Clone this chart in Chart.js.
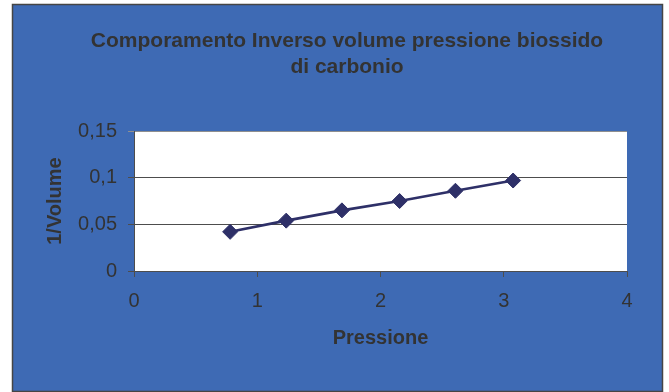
<!DOCTYPE html>
<html>
<head>
<meta charset="utf-8">
<title>Comporamento Inverso volume pressione biossido di carbonio</title>
<script src="https://cdn.jsdelivr.net/npm/chart.js@4/dist/chart.umd.min.js"></script>
<style>
  html, body { margin: 0; padding: 0; background: #ffffff; }
  #wrap { width: 669px; height: 392px; }
</style>
</head>
<body>
<div id="wrap"><canvas id="chart" width="669" height="392"></canvas></div>
<script>
// Pressione (x) and 1/Volume (y) measurements
const pressione = [0.78, 1.235, 1.687, 2.155, 2.608, 3.076];
const inversoVolume = [0.042, 0.054, 0.065, 0.075, 0.086, 0.097];

// Axis ticks and their labels (decimal comma)
const xTicks = [0, 1, 2, 3, 4];
const xTickLabels = ['0', '1', '2', '3', '4'];
const yTicks = [0, 0.05, 0.1, 0.15];
const yTickLabels = ['0', '0,05', '0,1', '0,15'];

const titleLines = ['Comporamento Inverso volume pressione biossido', 'di carbonio'];
const xTitle = 'Pressione';
const yTitle = '1/Volume';

const FONT = '"Liberation Sans", Arial, Helvetica, sans-serif';
const TEXT = '#333333';
const FRAME_BLUE = '#3e6ab4';
const LINE_NAVY = '#2e3068';
const AXIS_GREY = '#4d4d4d';

const points = pressione.map((p, i) => ({ x: p, y: inversoVolume[i] }));

// Blue framed background plus white plotting area
const framePlugin = {
  id: 'frame',
  beforeDraw(chart) {
    const { ctx, chartArea } = chart;
    ctx.save();
    ctx.fillStyle = FRAME_BLUE;
    ctx.fillRect(12, 4, 651, 388);
    ctx.strokeStyle = '#454545';
    ctx.lineWidth = 1.5;
    ctx.strokeRect(12.5, 4.5, 650, 387);
    ctx.fillStyle = '#ffffff';
    ctx.fillRect(chartArea.left, chartArea.top,
                 chartArea.right - chartArea.left, chartArea.bottom - chartArea.top);
    ctx.restore();
  }
};

// Centre the title over the whole frame rather than the padded layout box
const titleSpanPlugin = {
  id: 'titleSpan',
  afterLayout(chart) {
    if (chart.titleBlock) {
      chart.titleBlock.left = 25;
      chart.titleBlock.right = 669;
    }
  }
};

function setTicks(values) {
  return scale => { scale.ticks = values.map(v => ({ value: v })); };
}

new Chart(document.getElementById('chart'), {
  type: 'scatter',
  data: {
    datasets: [{
      label: yTitle,
      data: points,
      showLine: true,
      borderColor: LINE_NAVY,
      backgroundColor: LINE_NAVY,
      borderWidth: 2.6,
      pointStyle: 'rectRot',
      pointRadius: 7.5,
      pointHoverRadius: 7.5,
      pointBorderWidth: 1,
      pointBorderColor: LINE_NAVY,
      pointBackgroundColor: LINE_NAVY,
      tension: 0
    }]
  },
  options: {
    responsive: false,
    animation: false,
    events: [],
    layout: { padding: { left: 0, right: 42, top: 0, bottom: 0 } },
    plugins: {
      legend: { display: false },
      tooltip: { enabled: false },
      title: {
        display: true,
        text: titleLines,
        color: TEXT,
        font: { family: FONT, size: 21, weight: 'bold', lineHeight: 1.24 },
        padding: { top: 28, bottom: 51 }
      }
    },
    scales: {
      x: {
        type: 'linear',
        min: 0,
        max: 4,
        afterBuildTicks: setTicks(xTicks),
        afterFit: scale => { scale.height = 121; },
        ticks: {
          color: TEXT,
          font: { family: FONT, size: 20 },
          padding: 12,
          maxRotation: 0,
          callback: (v) => xTickLabels[xTicks.indexOf(v)] ?? ''
        },
        grid: {
          drawOnChartArea: false,
          drawTicks: true,
          tickLength: 6,
          color: AXIS_GREY,
          lineWidth: 1
        },
        border: { display: true, color: AXIS_GREY, width: 1 },
        title: {
          display: true,
          text: xTitle,
          color: TEXT,
          font: { family: FONT, size: 20, weight: 'bold', lineHeight: 1.25 },
          padding: { top: 0, bottom: 41 }
        }
      },
      y: {
        type: 'linear',
        min: 0,
        max: 0.15,
        afterBuildTicks: setTicks(yTicks),
        afterFit: scale => { scale.width = 134; },
        ticks: {
          color: TEXT,
          font: { family: FONT, size: 20 },
          padding: 11,
          callback: (v) => {
            const i = yTicks.findIndex(t => Math.abs(t - v) < 1e-9);
            return i >= 0 ? yTickLabels[i] : '';
          }
        },
        grid: {
          drawOnChartArea: true,
          drawTicks: true,
          tickLength: 6,
          color: ctx => (ctx.tick && Math.abs(ctx.tick.value - 0.15) < 1e-9) ? '#8f8f8f' : AXIS_GREY,
          lineWidth: 1
        },
        border: { display: true, color: AXIS_GREY, width: 1 },
        title: {
          display: true,
          text: yTitle,
          color: TEXT,
          font: { family: FONT, size: 20, weight: 'bold', lineHeight: 1.25 },
          padding: { top: 42.5, bottom: 0 }
        }
      }
    }
  },
  plugins: [framePlugin, titleSpanPlugin]
});
</script>
</body>
</html>
